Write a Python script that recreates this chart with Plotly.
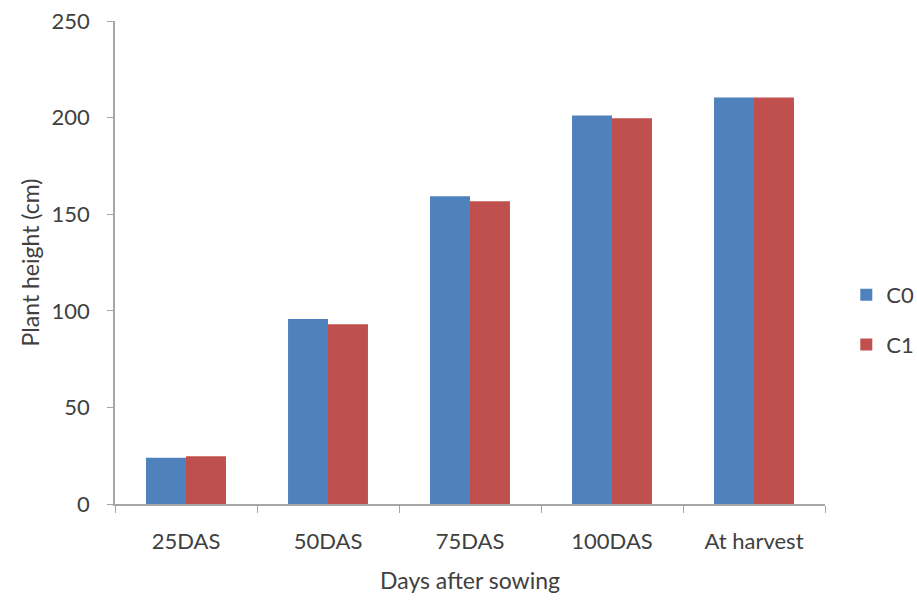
import plotly.graph_objects as go

# Plant height by growth stage for two treatments
stages = ["25DAS", "50DAS", "75DAS", "100DAS", "At harvest"]
c0_height = [23.9, 95.7, 159.3, 201.1, 210.4]
c1_height = [24.7, 93.1, 156.7, 199.7, 210.4]

font_family = "Lato, 'Open Sans', sans-serif"
axis_gray = "#A6A6A6"
text_color = "#404040"

fig = go.Figure()
fig.add_trace(go.Bar(x=stages, y=c0_height, name="C0", marker_color="#4F81BD",
                     marker_line_width=0, legendgroup="c0"))
fig.add_trace(go.Bar(x=stages, y=c1_height, name="C1", marker_color="#C0504D",
                     marker_line_width=0, legendgroup="c1"))

fig.update_layout(
    width=917, height=601,
    margin=dict(l=115, r=92, t=21, b=97, autoexpand=False),
    paper_bgcolor="white", plot_bgcolor="white",
    barmode="group", bargap=0.437, bargroupgap=0,
    font=dict(family=font_family, size=22, color=text_color),
    legend=dict(x=1.03, y=0.381, xanchor="left", yanchor="middle",
                font=dict(size=22, color=text_color),
                traceorder="grouped", tracegroupgap=18,
                itemwidth=30),
    showlegend=True,
)
fig.update_xaxes(
    title=dict(text="Days after sowing", font=dict(size=23), standoff=20),
    showline=True, linecolor=axis_gray, linewidth=1.5,
    ticks="outside", tickson="boundaries", ticklen=7, tickcolor=axis_gray,
    ticklabelstandoff=17,
    showgrid=False, tickfont=dict(size=22),
)
fig.update_yaxes(
    title=dict(text="Plant height (cm)", font=dict(size=23), standoff=6),
    range=[0, 250], dtick=50,
    showline=True, linecolor=axis_gray, linewidth=1.5,
    ticks="outside", ticklen=6, tickcolor=axis_gray,
    ticklabelstandoff=13,
    showgrid=False, zeroline=False, tickfont=dict(size=22),
)

fig.write_html("out.html")
